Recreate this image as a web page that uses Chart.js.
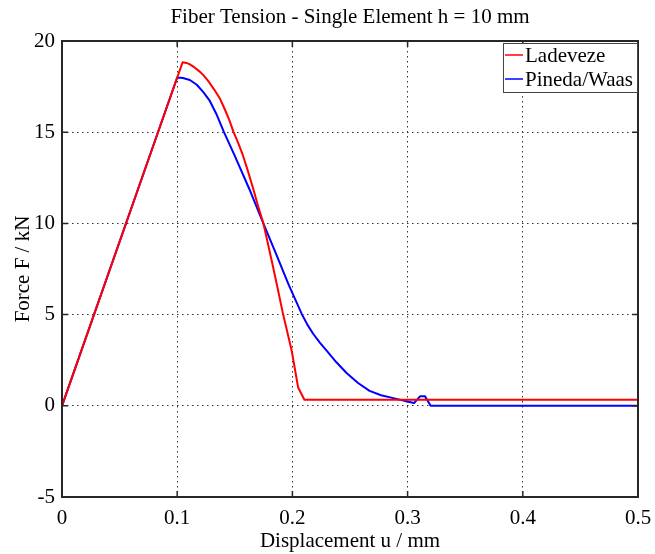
<!DOCTYPE html>
<html>
<head>
<meta charset="utf-8">
<script src="https://cdn.jsdelivr.net/npm/chart.js@4/dist/chart.umd.min.js"></script>
<style>
	html, body { margin: 0; padding: 0; background: #fff; }
	#wrap { width: 655px; height: 554px; }
</style>
</head>
<body>
<div id="wrap"><canvas id="chart" width="655" height="554"></canvas></div>
<script>
// displacement u / mm and force F / kN
const ladevezeU = [0, 0.1, 0.1047, 0.108, 0.111, 0.115, 0.119, 0.1227, 0.127, 0.132, 0.137, 0.141, 0.145, 0.1487, 0.153, 0.157, 0.161, 0.166, 0.170, 0.1748, 0.178, 0.182, 0.187, 0.192, 0.1994, 0.205, 0.2104, 0.5];
const ladevezeF = [0, 18.0, 18.83, 18.8, 18.72, 18.55, 18.35, 18.13, 17.8, 17.35, 16.85, 16.3, 15.7, 15.05, 14.4, 13.74, 12.95, 11.9, 11.0, 10.0, 9.1, 7.97, 6.5, 5.0, 3.02, 1.0, 0.33, 0.33];

const pinedaU = [0, 0.1, 0.105, 0.111, 0.117, 0.1227, 0.128, 0.134, 0.1406, 0.150, 0.1625, 0.1748, 0.186, 0.197, 0.208, 0.213, 0.218, 0.224, 0.2297, 0.238, 0.247, 0.257, 0.267, 0.277, 0.2876, 0.3006, 0.3056, 0.311, 0.315, 0.32, 0.5];
const pinedaF = [0, 18.0, 17.97, 17.86, 17.6, 17.2, 16.75, 16.0, 15.0, 13.7, 11.9, 10.0, 8.3, 6.6, 5.05, 4.45, 3.95, 3.45, 3.02, 2.4, 1.8, 1.25, 0.82, 0.58, 0.42, 0.22, 0.15, 0.53, 0.53, 0, 0];

const seriesNames = ['Ladeveze', 'Pineda/Waas'];
const seriesColors = ['#ff0000', '#0000ff'];

const xTickLabels = ['0', '0.1', '0.2', '0.3', '0.4', '0.5'];
const yTickLabels = ['-5', '0', '5', '10', '15', '20'];

const serif = "'Liberation Serif', 'DejaVu Serif', serif";

let toPoints = (xs, ys) => xs.map((x, i) => ({ x, y: ys[i] }));

// matlab-like box around the plot with inward ticks on every side
let axesBox = {
	id: 'axesBox',
	afterDatasetsDraw (chart) {
		let { ctx, chartArea: { left, right, top, bottom }, scales: { x, y } } = chart;
		ctx.save();
		ctx.strokeStyle = '#262626';
		ctx.lineWidth = 1.5;
		ctx.beginPath();
		x.ticks.forEach((t) => {
			let px = x.getPixelForValue(t.value);
			ctx.moveTo(px, bottom);
			ctx.lineTo(px, bottom - 6);
			ctx.moveTo(px, top);
			ctx.lineTo(px, top + 6);
		});
		y.ticks.forEach((t) => {
			let py = y.getPixelForValue(t.value);
			ctx.moveTo(left, py);
			ctx.lineTo(left + 6, py);
			ctx.moveTo(right, py);
			ctx.lineTo(right - 6, py);
		});
		ctx.stroke();
		ctx.lineWidth = 2;
		ctx.strokeRect(left, top, right - left, bottom - top);
		ctx.restore();
	},
};

// legend box in the top right corner of the axes
let boxLegend = {
	id: 'boxLegend',
	afterDraw (chart) {
		let { ctx, chartArea: { right, top } } = chart;
		let boxW = 135;
		let boxH = 50;
		let bx = right - boxW;
		let by = top + 2;
		ctx.save();
		ctx.fillStyle = '#fff';
		ctx.fillRect(bx, by, boxW, boxH);
		ctx.strokeStyle = '#444';
		ctx.lineWidth = 1;
		ctx.strokeRect(bx + 0.5, by + 0.5, boxW - 1, boxH - 1);
		ctx.font = '21px ' + serif;
		ctx.textBaseline = 'middle';
		chart.data.datasets.forEach((ds, i) => {
			let ly = by + 12 + i * 24;
			ctx.strokeStyle = ds.borderColor;
			ctx.lineWidth = 1.5;
			ctx.beginPath();
			ctx.moveTo(bx + 2, ly);
			ctx.lineTo(bx + 20, ly);
			ctx.stroke();
			ctx.fillStyle = '#000';
			ctx.fillText(ds.label, bx + 22, ly + 1);
		});
		ctx.restore();
	},
};

let chartEl = document.getElementById('chart');

new Chart(chartEl, {
	type: 'line',
	data: {
		datasets: [
			{ label: seriesNames[0], data: toPoints(ladevezeU, ladevezeF), borderColor: seriesColors[0] },
			{ label: seriesNames[1], data: toPoints(pinedaU, pinedaF), borderColor: seriesColors[1] },
		],
	},
	options: {
		responsive: false,
		animation: false,
		layout: { padding: { left: 0, right: 17, top: 0, bottom: 0 } },
		elements: {
			point: { radius: 0 },
			line: { borderWidth: 2, tension: 0, fill: false, borderJoinStyle: 'round' },
		},
		plugins: {
			legend: { display: false },
			tooltip: { enabled: false },
			title: {
				display: true,
				text: 'Fiber Tension - Single Element h = 10 mm',
				fullSize: false,
				color: '#000',
				font: { family: serif, size: 21, weight: 'normal', lineHeight: 1.2 },
				padding: { top: 5, bottom: 10.8 },
			},
		},
		scales: {
			x: {
				type: 'linear',
				min: 0,
				max: 0.5,
				// fixed axis height, no extra side padding so the plot ends at the set right edge
				afterFit: (scale) => {
					scale.height = 57;
					scale.paddingLeft = 0;
					scale.paddingRight = 0;
				},
				afterBuildTicks: (scale) => {
					scale.ticks = xTickLabels.map((l) => ({ value: parseFloat(l) }));
				},
				ticks: {
					color: '#000',
					padding: 9,
					maxRotation: 0,
					font: { family: serif, size: 21 },
					callback: (v, i) => xTickLabels[i],
				},
				grid: { color: '#333', lineWidth: 1, drawTicks: false },
				border: { display: false, dash: [1.5, 3.5] },
				title: {
					display: true,
					text: 'Displacement u / mm',
					color: '#000',
					font: { family: serif, size: 21, lineHeight: 1.2 },
					padding: { top: 0, bottom: 0 },
				},
			},
			y: {
				min: -5,
				max: 20,
				afterFit: (scale) => {
					scale.width = 62;
					scale.paddingTop = 0;
					scale.paddingBottom = 0;
				},
				afterBuildTicks: (scale) => {
					scale.ticks = yTickLabels.map((l) => ({ value: parseFloat(l) }));
				},
				ticks: {
					color: '#000',
					padding: 7,
					font: { family: serif, size: 21 },
					callback: (v, i) => yTickLabels[i],
				},
				grid: { color: '#333', lineWidth: 1, drawTicks: false },
				border: { display: false, dash: [1.5, 3.5] },
				title: {
					display: true,
					text: 'Force F / kN',
					color: '#000',
					font: { family: serif, size: 21, lineHeight: 1.2 },
					padding: { top: 11, bottom: 0 },
				},
			},
		},
	},
	plugins: [axesBox, boxLegend],
});
</script>
</body>
</html>
